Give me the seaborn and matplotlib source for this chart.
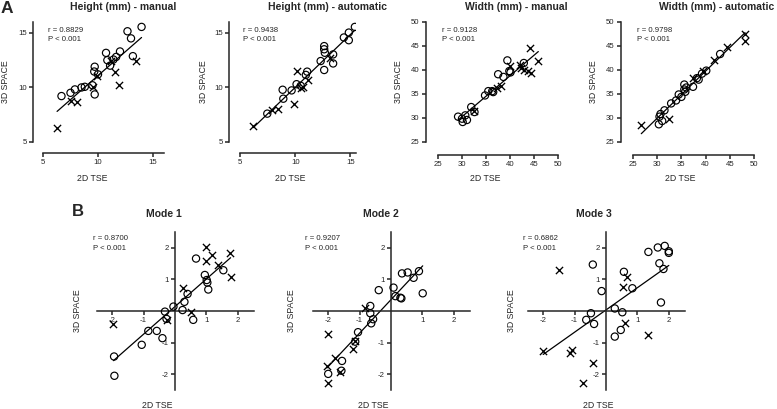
import numpy as np
import pandas as pd
import matplotlib
matplotlib.use('Agg')
import matplotlib.pyplot as plt
import seaborn as sns

# ---- values ----
# A: Height (mm) - manual
hm_circ_x = [6.68, 7.5, 7.9, 8.5, 8.8, 9.5, 9.7, 9.7, 9.66, 10.0, 10.73, 10.85, 11.1, 11.4, 11.65, 12.0, 12.68, 13.0, 13.17, 13.96]
hm_circ_y = [9.21, 9.51, 9.82, 10.0, 10.06, 10.2, 9.36, 11.9, 11.46, 11.2, 13.17, 12.5, 12.0, 12.56, 12.8, 13.3, 15.15, 14.5, 12.87, 15.55]
hm_cross_x = [6.28, 7.5, 8.05, 9.5, 9.88, 11.19, 11.55, 11.9, 13.48]
hm_cross_y = [6.25, 8.78, 8.63, 10.0, 11.04, 12.41, 11.43, 10.27, 12.47]

# A: Height (mm) - automatic
ha_circ_x = [7.47, 8.86, 8.92, 9.67, 10.12, 10.5, 10.96, 11.08, 12.3, 12.62, 12.62, 12.68, 12.62, 13.43, 13.43, 14.4, 14.85, 14.85, 15.4]
ha_circ_y = [7.6, 9.79, 8.97, 9.73, 10.3, 10.15, 11.15, 11.45, 12.42, 13.79, 13.5, 13.18, 11.6, 13.03, 12.2, 14.58, 15.03, 14.33, 15.55]
ha_cross_x = [6.2, 7.86, 8.46, 9.88, 10.12, 10.5, 10.72, 11.2, 13.13]
ha_cross_y = [6.5, 7.9, 8.03, 8.48, 11.5, 9.94, 10.03, 10.64, 12.67]

# A: Width (mm) - manual
wm_circ_x = [29.18, 30.0, 30.14, 30.68, 31.03, 31.92, 32.6, 34.8, 35.48, 36.3, 36.5, 37.53, 38.63, 39.45, 39.86, 40.1, 42.88]
wm_circ_y = [30.28, 29.86, 29.17, 30.55, 29.59, 32.28, 31.24, 34.7, 35.6, 35.6, 35.4, 39.12, 38.56, 42.0, 39.79, 39.5, 41.46]
wm_cross_x = [32.6, 37.2, 38.08, 40.07, 41.99, 42.33, 43.0, 43.7, 44.38, 44.18, 45.9]
wm_cross_y = [31.45, 36.3, 36.77, 40.9, 41.1, 40.4, 39.9, 39.7, 39.4, 44.57, 41.95]

# A: Width (mm) - automatic
wa_circ_x = [30.34, 30.48, 30.68, 31.03, 31.5, 32.88, 33.9, 34.45, 35.0, 35.6, 35.6, 35.8, 36.0, 37.4, 38.2, 38.56, 39.25, 40.14, 43.0]
wa_circ_y = [28.69, 30.28, 30.83, 29.38, 31.6, 33.04, 33.66, 34.9, 34.4, 36.97, 35.94, 35.46, 36.35, 36.5, 38.3, 38.0, 39.25, 39.87, 43.33]
wa_cross_x = [26.71, 32.4, 37.4, 39.38, 41.64, 44.38, 48.15, 48.15]
wa_cross_y = [28.48, 29.86, 38.36, 39.7, 42.15, 44.7, 47.54, 46.09]

# B: Mode 1
m1_circ_x = [-1.94, -1.93, -1.06, -0.85, -0.58, -0.40, -0.32, -0.27, -0.05, 0.24, 0.30, 0.40, 0.58, 0.67, 0.95, 1.01, 1.03, 1.06, 1.54]
m1_circ_y = [-1.44, -2.05, -1.07, -0.63, -0.63, -0.86, -0.02, -0.25, 0.14, 0.03, 0.29, 0.54, -0.28, 1.66, 1.14, 0.98, 0.9, 0.68, 1.29]
m1_cross_x = [-1.96, -0.24, 0.24, 0.51, 0.98, 0.98, 1.19, 1.38, 1.75, 1.77]
m1_cross_y = [-0.42, -0.28, 0.72, -0.02, 2.01, 1.59, 1.77, 1.45, 1.85, 1.08]

# B: Mode 2
m2_circ_x = [-2.0, -1.58, -1.56, -1.05, -1.14, -0.66, -0.66, -0.57, -0.63, -0.39, 0.08, 0.14, 0.30, 0.33, 0.35, 0.53, 0.72, 0.89, 1.01]
m2_circ_y = [-1.99, -1.89, -1.58, -0.67, -0.97, 0.16, -0.07, -0.26, -0.39, 0.66, 0.74, 0.47, 0.42, 0.40, 1.19, 1.22, 1.05, 1.26, 0.56]
m2_cross_x = [-2.0, -2.04, -2.0, -1.77, -1.64, -1.21, -1.14, -0.84]
m2_cross_y = [-0.74, -1.74, -2.28, -1.49, -1.92, -1.2, -0.95, 0.08]

# B: Mode 3
m3_circ_x = [-0.63, -0.48, -0.42, -0.38, -0.14, 0.28, 0.52, 0.47, 0.28, 0.57, 0.84, 1.35, 1.65, 1.70, 1.75, 1.83, 1.87, 2.0, 2.0]
m3_circ_y = [-0.28, -0.07, 1.47, -0.41, 0.63, 0.08, -0.04, -0.6, -0.81, 1.24, 0.72, 1.87, 2.01, 1.51, 0.27, 1.33, 2.06, 1.89, 1.84]
m3_cross_x = [-2.0, -1.5, -1.15, -1.08, -0.73, -0.4, 0.55, 0.67, 0.60, 1.33]
m3_cross_y = [-1.26, 1.29, -1.32, -1.23, -2.28, -1.65, 0.77, 1.08, -0.39, -0.76]

top_titles = ['Height (mm) - manual', 'Height (mm) - automatic', 'Width (mm) - manual', 'Width (mm) - automatic']
top_r = ['r = 0.8829', 'r = 0.9438', 'r = 0.9128', 'r = 0.9798']
bot_titles = ['Mode 1', 'Mode 2', 'Mode 3']
bot_r = ['r = 0.8700', 'r = 0.9207', 'r = 0.6862']

# ---- style ----
sns.set_style('ticks')
plt.rcParams['font.family'] = ['Liberation Sans', 'DejaVu Sans']
plt.rcParams['axes.unicode_minus'] = False

W, H = 777, 409
fig = plt.figure(figsize=(W / 100, H / 100), dpi=100)


def px_axes(x0, x1, ytop, ybot):
    return fig.add_axes([x0 / W, 1 - ybot / H, (x1 - x0) / W, (ybot - ytop) / H])


def ftext(x, y, s, **kw):
    fig.text(x / W, 1 - y / H, s, **kw)


def draw_points(ax, cx, cy, xx, xy):
    sns.scatterplot(x=cx, y=cy, marker='o', s=27, facecolors='none',
                    edgecolors='black', linewidths=0.85, ax=ax, zorder=3)
    sns.scatterplot(x=xx, y=xy, marker='x', s=27, color='black',
                    linewidths=0.95, ax=ax, zorder=3)
    sns.regplot(x=np.array(cx + xx), y=np.array(cy + xy), scatter=False, ci=None,
                truncate=True, line_kws=dict(color='black', lw=0.9), ax=ax)


def style_axes(ax):
    for sp in ['left', 'bottom']:
        ax.spines[sp].set_linewidth(1.1)
    ax.tick_params(width=1.1, length=2.8, labelsize=5.6, pad=1.8)
    ax.set_xlabel('')
    ax.set_ylabel('')


# ---- panel A ----
top_data = [
    (hm_circ_x, hm_circ_y, hm_cross_x, hm_cross_y),
    (ha_circ_x, ha_circ_y, ha_cross_x, ha_cross_y),
    (wm_circ_x, wm_circ_y, wm_cross_x, wm_cross_y),
    (wa_circ_x, wa_circ_y, wa_cross_x, wa_cross_y),
]
top_geom = [(43, 164, 22, 142), (240, 356, 22, 142), (438, 558, 22, 142), (633, 754, 22, 142)]
top_lims = [((5, 16), (5, 16)), ((5, 15.5), (5, 16)), ((25, 50), (25, 50)), ((25, 50), (25, 50))]
top_ticks = [[5, 10, 15], [5, 10, 15], [25, 30, 35, 40, 45, 50], [25, 30, 35, 40, 45, 50]]
top_offs = [(7, 8), (8, 8), (9, 9), (9, 9)]
title_x = [123, 327, 516, 717]
ylab_x = [6, 203, 398, 593]
xlab_x = [92, 290, 485, 680]
ann_x = [48, 243, 442, 637]

for i in range(4):
    ax = px_axes(*top_geom[i])
    draw_points(ax, *top_data[i])
    ax.set_xlim(*top_lims[i][0])
    ax.set_ylim(*top_lims[i][1])
    ax.set_xticks(top_ticks[i])
    ax.set_yticks(top_ticks[i])
    sns.despine(ax=ax)
    ax.spines['left'].set_position(('outward', top_offs[i][0]))
    ax.spines['bottom'].set_position(('outward', top_offs[i][1]))
    style_axes(ax)
    ftext(title_x[i], 7, top_titles[i], ha='center', va='center', fontsize=7.5, fontweight='bold')
    ftext(ylab_x[i], 82, '3D SPACE', ha='center', va='center', rotation=90, fontsize=6.3)
    ftext(xlab_x[i], 179, '2D TSE', ha='center', va='center', fontsize=6.3)
    ftext(ann_x[i], 31, top_r[i], ha='left', va='center', fontsize=5.6)
    ftext(ann_x[i], 39.5, 'P < 0.001', ha='left', va='center', fontsize=5.6)

# ---- panel B ----
bot_data = [
    (m1_circ_x, m1_circ_y, m1_cross_x, m1_cross_y),
    (m2_circ_x, m2_circ_y, m2_cross_x, m2_cross_y),
    (m3_circ_x, m3_circ_y, m3_cross_x, m3_cross_y),
]
bot_center = [175, 391, 606]
bot_title_x = [164, 381, 594]
bot_ylab_x = [77, 292, 512]
bot_xlab_x = [157, 373, 598]
bot_ann_x = [93, 305, 523]

for i in range(3):
    c = bot_center[i]
    ax = px_axes(c - 78.5, c + 78.5, 232, 390)
    draw_points(ax, *bot_data[i])
    ax.set_xlim(-2.5, 2.5)
    ax.set_ylim(-2.5, 2.5)
    ax.set_xticks([-2, -1, 1, 2])
    ax.set_yticks([-2, -1, 1, 2])
    sns.despine(ax=ax)
    ax.spines['left'].set_position('zero')
    ax.spines['bottom'].set_position('zero')
    style_axes(ax)
    ftext(bot_title_x[i], 214, bot_titles[i], ha='center', va='center', fontsize=7.5, fontweight='bold')
    ftext(bot_ylab_x[i], 311, '3D SPACE', ha='center', va='center', rotation=90, fontsize=6.3)
    ftext(bot_xlab_x[i], 405, '2D TSE', ha='center', va='center', fontsize=6.3)
    ftext(bot_ann_x[i], 238, bot_r[i], ha='left', va='center', fontsize=5.6)
    ftext(bot_ann_x[i], 249, 'P < 0.001', ha='left', va='center', fontsize=5.6)

ftext(1, 1, 'A', ha='left', va='top', fontsize=12.5, fontweight='bold')
ftext(72, 204, 'B', ha='left', va='top', fontsize=12, fontweight='bold')

fig.savefig('out.png', dpi=100)
